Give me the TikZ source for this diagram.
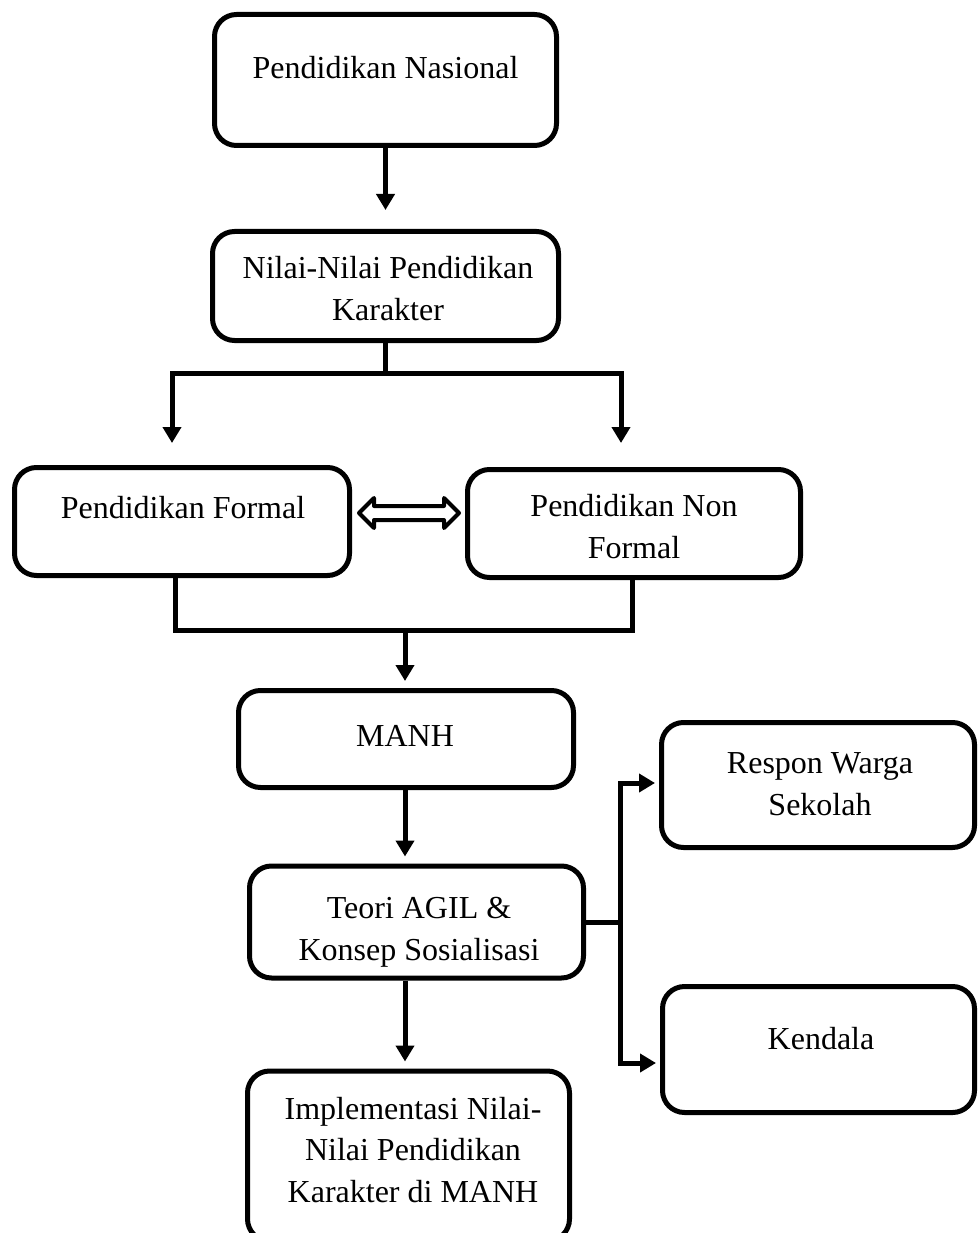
\documentclass[tikz,border=0pt]{standalone}
\usepackage{fontspec}
\setmainfont{Liberation Serif}
\usetikzlibrary{arrows.meta}
\begin{document}
\begin{tikzpicture}[x=1pt,y=-1pt,
  box/.style={draw, line width=5pt, rounded corners=22pt, inner sep=0pt},
  txt/.style={font=\fontsize{32}{41.5}\selectfont, align=center, anchor=base, inner sep=0pt},
  conn/.style={line width=5pt},
  arr/.style={line width=5pt, -{Triangle[width=18pt,length=16pt]}},
  dbl/.style={line width=4pt, line join=round}
]
\useasboundingbox (0,0) rectangle (979,1233);

% boxes
\node[box, minimum width=342pt, minimum height=131pt] (nas) at (385.5,80) {};
\node[box, minimum width=346pt, minimum height=109pt] (nil) at (385.5,286) {};
\node[box, minimum width=335pt, minimum height=108pt] (formal) at (182,521.5) {};
\node[box, minimum width=333pt, minimum height=108pt] (nonformal) at (634,523.5) {};
\node[box, minimum width=335pt, minimum height=97pt] (manh) at (406,739) {};
\node[box, minimum width=334pt, minimum height=112pt] (teori) at (416.5,922) {};
\node[box, minimum width=322pt, minimum height=170pt] (impl) at (408.5,1156) {};
\node[box, minimum width=313pt, minimum height=125pt] (respon) at (818,785) {};
\node[box, minimum width=312pt, minimum height=126pt] (kendala) at (818.5,1049.5) {};

% texts (anchor=base is the baseline of the last line)
\node[txt] (tnas) at (385.5,79) {Pendidikan Nasional};
\node[txt] (tnil) at (388,320) {Nilai-Nilai Pendidikan\\Karakter};
\node[txt] (tformal) at (183,518) {Pendidikan Formal};
\node[txt] (tnonformal) at (634,558) {Pendidikan Non\\Formal};
\node[txt] (tmanh) at (405,746) {MANH};
\node[txt] (tteori) at (419,960) {Teori AGIL \&\\Konsep Sosialisasi};
\node[txt] (timpl) at (413,1202) {Implementasi Nilai-\\Nilai Pendidikan\\Karakter di MANH};
\node[txt] (trespon) at (820,815) {Respon Warga\\Sekolah};
\node[txt] (tkendala) at (821,1049) {Kendala};

% coordinates for free ends / junctions
\coordinate (j1) at (385.5,373);
\coordinate (e1) at (172,443);
\coordinate (e2) at (621,443);
\coordinate (fx) at (175,630);
\coordinate (nfx) at (632,630);
\coordinate (jm) at (405,630);
\coordinate (r1) at (620,783);
\coordinate (k1) at (620,1063);

% connectors
\draw[arr, shorten >=19pt] (nas.south) -- (nil.north);
\draw[conn] (nil.south) -- (j1);
\draw[arr] (j1) -| (e1);
\draw[arr] (j1) -| (e2);

\draw[conn] (formal.south -| fx) -- (fx) -- (nfx) -- (nonformal.south -| nfx);
\draw[arr, shorten >=7pt] (jm) -- (jm |- manh.north);
\draw[arr, shorten >=7pt] (manh.south -| jm) -- (teori.north -| jm);
\draw[arr, shorten >=7pt] (teori.south -| jm) -- (impl.north -| jm);

\draw[conn] (teori.east) -- (teori.east -| r1);
\draw[arr, shorten >=4pt] (teori.east -| r1) -- (r1) -- (respon.west |- r1);
\draw[arr, shorten >=4pt] (teori.east -| r1) -- (k1) -- (kendala.west |- k1);

% double arrow between formal and non formal
\coordinate (dl) at (359,513);
\draw[dbl] (dl) -- ++(15,-15) -- ++(0,8) -- ++(70,0) -- ++(0,-8) -- ++(15,15)
  -- ++(-15,15) -- ++(0,-8) -- ++(-70,0) -- ++(0,8) -- cycle;
\end{tikzpicture}
\end{document}
